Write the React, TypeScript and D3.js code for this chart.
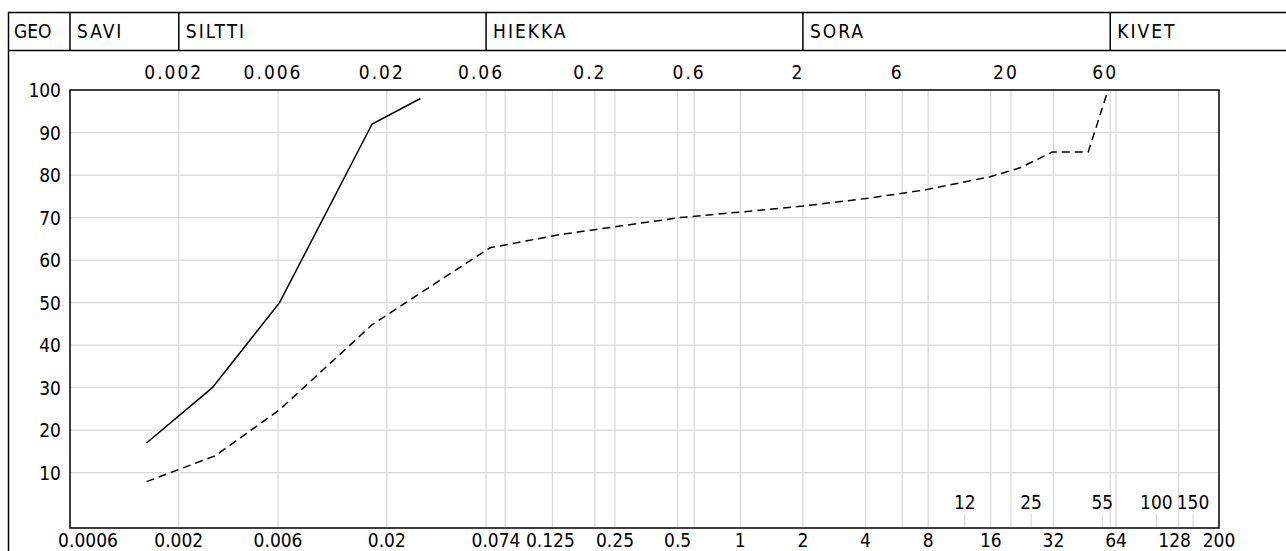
import * as d3 from "d3"

const headerLabels = ["GEO", "SAVI", "SILTTI", "HIEKKA", "SORA", "KIVET"]
const headerBounds = [0.0006, 0.002, 0.06, 2, 60]
const topTicks = [0.002, 0.006, 0.02, 0.06, 0.2, 0.6, 2, 6, 20, 60]
const bottomTicks = [0.0006, 0.002, 0.006, 0.02, 0.074, 0.125, 0.25, 0.5, 1, 2, 4, 8, 16, 32, 64, 128, 200]
const gridX = [0.002, 0.006, 0.02, 0.06, 0.074, 0.125, 0.2, 0.25, 0.5, 0.6, 1, 2, 4, 6, 8, 16, 20, 32, 60, 64, 128]
const innerTicks = [12, 25, 55, 100, 150]
const yTicks = [10, 20, 30, 40, 50, 60, 70, 80, 90, 100]

const solidX = [0.0014, 0.0029, 0.0061, 0.017, 0.029]
const solidY = [17, 30, 50, 92, 98]
const dashedX = [0.0014, 0.003, 0.0061, 0.017, 0.0306, 0.0627, 0.136, 0.264, 0.514, 1.0, 2.0, 4.2, 7.7, 15.9, 22.1, 31.6, 47, 58.6]
const dashedY = [7.9, 14, 24.8, 44.8, 53, 62.9, 66, 68, 70, 71.3, 72.7, 74.6, 76.5, 79.6, 81.7, 85.4, 85.4, 100]

const W = 1286
const H = 551
const font = "'DejaVu Sans Condensed', 'DejaVu Sans', sans-serif"

// small nudges so crowded labels sit like the reference
const bottomShift: Record<string, number> = { "0.0006": 18, "0.074": -9, "0.125": -2, "128": -4, "200": 0 }

export default function App() {
  const x = d3.scaleLog().domain([0.0006, 200]).range([70, 1219])
  const y = d3.scaleLinear().domain([-3, 100]).range([528, 90])
  const line = d3
    .line<[number, number]>()
    .x((d) => x(d[0]))
    .y((d) => y(d[1]))
  const solid = solidX.map((v, i) => [v, solidY[i]] as [number, number])
  const dashed = dashedX.map((v, i) => [v, dashedY[i]] as [number, number])
  const hx = [8, ...headerBounds.map((b) => x(b)), W]

  return (
    <svg width={W} height={H} style={{ position: "absolute", left: 0, top: 0 }} fontFamily={font}>
      <rect x={0} y={0} width={W} height={H} fill="#fff" />
      {/* outer frame and header row */}
      <line x1={8.5} x2={8.5} y1={12} y2={H} stroke="#000" strokeWidth={1.5} />
      <line x1={8} x2={W} y1={12.5} y2={12.5} stroke="#000" strokeWidth={1.5} />
      <line x1={8} x2={W} y1={50.5} y2={50.5} stroke="#000" strokeWidth={1.5} />
      {headerBounds.map((b) => (
        <line key={b} x1={x(b)} x2={x(b)} y1={12} y2={50} stroke="#000" strokeWidth={1.5} />
      ))}
      {headerLabels.map((t, i) => (
        <text key={t} x={hx[i] + (i === 0 ? 6 : 7)} y={38} fontSize={19} letterSpacing={i === 0 ? 0 : 2}>
          {t}
        </text>
      ))}
      {/* grid */}
      {gridX.map((v) => (
        <line key={v} x1={x(v)} x2={x(v)} y1={y(100)} y2={y(-3)} stroke="#d9d9d9" strokeWidth={1.2} />
      ))}
      {yTicks.slice(0, -1).map((v) => (
        <line key={v} x1={x(0.0006)} x2={x(200)} y1={y(v)} y2={y(v)} stroke="#d9d9d9" strokeWidth={1.2} />
      ))}
      {innerTicks.map((v) => (
        <g key={v}>
          <line x1={x(v)} x2={x(v)} y1={y(-3)} y2={y(-3) - 14} stroke="#d9d9d9" strokeWidth={1.2} />
          <text x={x(v)} y={y(-3) - 19} fontSize={19} textAnchor="middle">
            {v}
          </text>
        </g>
      ))}
      {/* plot box */}
      <rect x={x(0.0006)} y={y(100)} width={x(200) - x(0.0006)} height={y(-3) - y(100)} fill="none" stroke="#000" strokeWidth={1.5} />
      {yTicks.map((v) => (
        <text key={v} x={61} y={y(v) + 7} fontSize={19} textAnchor="end">
          {v}
        </text>
      ))}
      {topTicks.map((v) => (
        <text key={v} x={x(v) - 5} y={79} fontSize={19} textAnchor="middle" letterSpacing={2}>
          {String(v)}
        </text>
      ))}
      {bottomTicks.map((v) => (
        <text key={v} x={x(v) + (bottomShift[String(v)] ?? 0)} y={547} fontSize={19} textAnchor="middle">
          {String(v)}
        </text>
      ))}
      <path d={line(solid) ?? ""} fill="none" stroke="#000" strokeWidth={1.5} />
      <path d={line(dashed) ?? ""} fill="none" stroke="#000" strokeWidth={1.5} strokeDasharray="8 5" />
    </svg>
  )
}
